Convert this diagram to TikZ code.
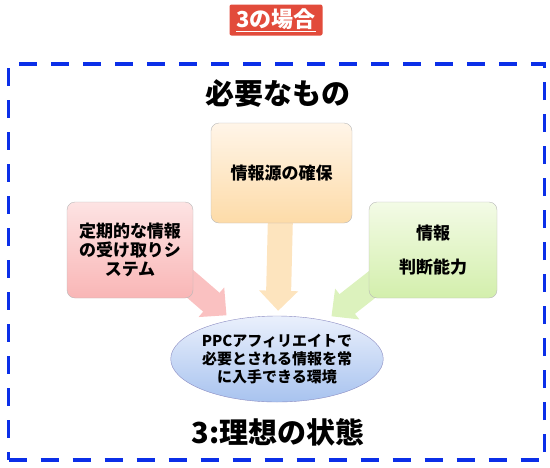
\documentclass[tikz,border=0pt]{standalone}
\usepackage{fontspec}
\setmainfont{Noto Sans CJK JP}
\usepackage{xcolor}
\usepackage{tikz}
\usetikzlibrary{arrows.meta,positioning,shapes.geometric,backgrounds}
\definecolor{badgered}{HTML}{E24B3B}
\definecolor{frameblue}{HTML}{0B2FE8}
\definecolor{pinktop}{HTML}{FDE3E3}
\definecolor{pinkbot}{HTML}{F9B6B6}
\definecolor{peachtop}{HTML}{FFF5E8}
\definecolor{peachbot}{HTML}{FDDBA8}
\definecolor{greentop}{HTML}{F3FBE6}
\definecolor{greenbot}{HTML}{D3EFAC}
\definecolor{ovaltop}{HTML}{EAF0FC}
\definecolor{ovalbot}{HTML}{A8C3EF}

\begin{document}
\begin{tikzpicture}[x=1pt, y=-1pt,
    box/.style={draw=gray!55, rounded corners=8pt, minimum width=128pt, minimum height=96pt, align=center, inner sep=2pt, font=\fontsize{17}{19}\selectfont\bfseries},
    goal/.style={ellipse, draw=blue!30!gray!70, minimum width=205pt, minimum height=86pt, inner sep=0pt, align=center, top color=ovaltop, bottom color=ovalbot, font=\fontsize{15}{18}\selectfont\bfseries},
    heading/.style={font=\fontsize{29}{32}\selectfont\bfseries},
    arr/.style={line width=25pt, -{Triangle[length=20pt,width=38pt]}, shorten >=7pt, shorten <=-25pt},
]
    \useasboundingbox (0,0) rectangle (550,467);

    \node[fill=badgered, rounded corners=2pt, minimum width=93pt, minimum height=31pt, text=white, font=\fontsize{22}{22}\selectfont\bfseries] (badge) at (276,20) {\underline{3の場合}};

    \node[draw=frameblue, line width=3.5pt, dash pattern=on 18pt off 14pt, minimum width=536pt, minimum height=396pt] (frame) at (276.5,262) {};

    \node[heading] (need) at (278,94) {必要なもの};

    \node[box, top color=peachtop, bottom color=peachbot, minimum width=141pt, minimum height=100pt] (source) at (281.5,173) {情報源の確保};
    \node[box, top color=pinktop, bottom color=pinkbot, minimum width=126pt] (receive) at (130,250) {定期的な情報\\の受け取りシ\\ステム};
    \node[box, top color=greentop, bottom color=greenbot] (judge) at (433,250) {情報\\[15pt]判断能力};

    \node[goal] (ideal) at (277,359) {PPCアフィリエイトで\\必要とされる情報を常\\に入手できる環境};

    \node[heading] (state) at (278,432) {3:理想の状態};

    \begin{scope}[on background layer]
        \draw[arr, pinkbot!85!white] (receive.-30) -- (ideal);
        \draw[arr, peachbot!75!white, shorten >=5pt] (source) -- (ideal);
        \draw[arr, greenbot!80!white] (judge.-150) -- (ideal);
    \end{scope}
\end{tikzpicture}
\end{document}
